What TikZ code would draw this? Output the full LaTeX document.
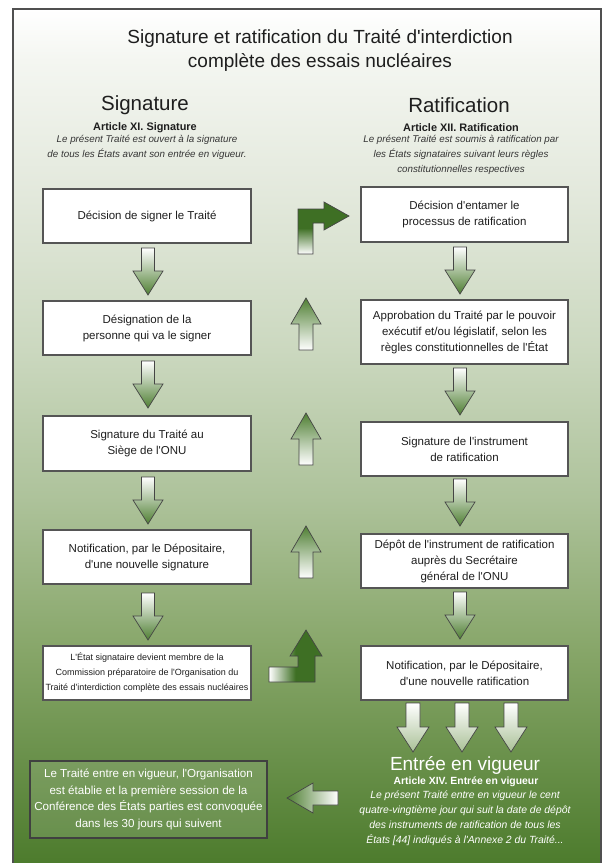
\documentclass[tikz,border=0pt]{standalone}
\usepackage{fontspec}
\newfontfamily\lsans{Liberation Sans}[Ligatures=TeXOff]
\definecolor{bgA}{HTML}{F4F6F1}
\definecolor{bgB}{HTML}{E2E8DB}
\definecolor{bgC}{HTML}{CBD8BF}
\definecolor{bgD}{HTML}{ADC29A}
\definecolor{bgE}{HTML}{87A669}
\definecolor{bgF}{HTML}{4B7A2B}
\definecolor{ag}{HTML}{4F7F33}
\definecolor{dg}{HTML}{3E6F24}
\definecolor{lg}{HTML}{A9C096}
\definecolor{boxline}{HTML}{555555}
\definecolor{arrgray}{HTML}{454545}
\definecolor{framec}{HTML}{505050}
\definecolor{txt}{HTML}{1E1E1E}
\begin{document}
\begin{tikzpicture}[x=1pt,y=-1pt,
  boxst/.style={draw=boxline, line width=1.2pt, fill=white, inner sep=0pt, align=center, text=txt, font=\lsans\fontsize{11.5}{16}\selectfont},
  arrline/.style={draw=arrgray, line width=0.7pt},
  darr/.pic={\path[arrline, top color=white, bottom color=ag] (-6.5,0) -- (6.5,0) -- (6.5,23) -- (15,23) -- (0,47) -- (-15,23) -- (-6.5,23) -- cycle;},
  uarr/.pic={\path[arrline, top color=ag, bottom color=white] (-7,0) -- (7,0) -- (7,-26) -- (15,-26) -- (0,-52) -- (-15,-26) -- (-7,-26) -- cycle;},
  barr/.pic={\path[arrline, top color=white, bottom color=lg] (-7,0) -- (7,0) -- (7,24) -- (16,24) -- (0,49) -- (-16,24) -- (-7,24) -- cycle;},
  hd/.style={font=\lsans\fontsize{20.5}{24}\selectfont, text=txt},
  art/.style={font=\lsans\bfseries\fontsize{10.9}{13}\selectfont, text=txt},
  itx/.style={font=\lsans\itshape\fontsize{9.8}{15}\selectfont, align=center, text=txt!90},
]
\useasboundingbox (0,0) rectangle (606,863);
% background
\fill[white] (0,0) rectangle (606,863);
\shade[top color=white, bottom color=bgA] (13,9) rectangle (601,60.5);
\shade[top color=bgA, bottom color=bgB] (13,60) rectangle (601,200.5);
\shade[top color=bgB, bottom color=bgC] (13,200) rectangle (601,350.5);
\shade[top color=bgC, bottom color=bgD] (13,350) rectangle (601,500.5);
\shade[top color=bgD, bottom color=bgE] (13,500) rectangle (601,650.5);
\shade[top color=bgE, bottom color=bgF] (13,650) rectangle (601,870);
\draw[framec, line width=1.5pt] (13,870) -- (13,9) -- (601,9) -- (601,870);

% title and headers
\node[font=\lsans\fontsize{19}{24}\selectfont, align=center, text=txt] (title) at (320,50) {Signature et ratification du Traité d'interdiction\\complète des essais nucléaires};
\node[hd] (sighd) at (145,105) {Signature};
\node[art] (art11) at (145,128) {Article XI. Signature};
\node[itx] (sigtxt) at (147,147.5) {Le présent Traité est ouvert à la signature\\de tous les États avant son entrée en vigueur.};
\node[hd] (rathd) at (459,105) {Ratification};
\node[art] (art12) at (461,128) {Article XII. Ratification};
\node[itx] (rattxt) at (461,155) {Le présent Traité est soumis à ratification par\\les États signataires suivant leurs règles\\constitutionnelles respectives};

% left boxes
\node[boxst, minimum width=208pt, minimum height=54pt] (L1) at (147,216) {Décision de signer le Traité};
\node[boxst, minimum width=208pt, minimum height=54pt] (L2) at (147,328) {Désignation de la\\personne qui va le signer};
\node[boxst, minimum width=208pt, minimum height=55pt] (L3) at (147,443.5) {Signature du Traité au\\Siège de l'ONU};
\node[boxst, minimum width=208pt, minimum height=54pt] (L4) at (147,557) {Notification, par le Dépositaire,\\d'une nouvelle signature};
\node[boxst, minimum width=208pt, minimum height=54pt, font=\lsans\fontsize{9}{15}\selectfont] (L5) at (147,673) {L'État signataire devient membre de la\\Commission préparatoire de l'Organisation du\\Traité d'interdiction complète des essais nucléaires};

% right boxes
\node[boxst, minimum width=207pt, minimum height=55pt] (R1) at (464.5,214.5) {Décision d'entamer le\\processus de ratification};
\node[boxst, minimum width=207pt, minimum height=64pt] (R2) at (464.5,332) {Approbation du Traité par le pouvoir\\exécutif et/ou législatif, selon les\\règles constitutionnelles de l'État};
\node[boxst, minimum width=207pt, minimum height=54pt] (R3) at (464.5,449) {Signature de l'instrument\\de ratification};
\node[boxst, minimum width=207pt, minimum height=54pt] (R4) at (464.5,561) {Dépôt de l'instrument de ratification\\auprès du Secrétaire\\général de l'ONU};
\node[boxst, minimum width=207pt, minimum height=54pt] (R5) at (464.5,673) {Notification, par le Dépositaire,\\d'une nouvelle ratification};

% down arrows left
\pic at (148,248) {darr};
\pic at (148,361) {darr};
\pic at (148,477) {darr};
\pic at (148,593) {darr};
% down arrows right
\pic at (460,247) {darr};
\pic at (460,368) {darr};
\pic at (460,479) {darr};
\pic at (460,592) {darr};
% up arrows middle
\pic at (306,350) {uarr};
\pic at (306,465) {uarr};
\pic at (306,578) {uarr};

% bent arrow top (signature -> ratification)
\path[arrline, top color=dg, bottom color=white, middle color=dg]
  (298,254) -- (298,209) -- (324,209) -- (324,202) -- (349,216) -- (324,230) -- (324,223) -- (313,223) -- (313,254) -- cycle;
% bent arrow bottom
\path[arrline, left color=white, right color=dg, middle color=dg]
  (269,667) -- (298,667) -- (298,656) -- (290,656) -- (306,630) -- (322,656) -- (315,656) -- (315,682) -- (269,682) -- cycle;

% three arrows to entry into force
\pic at (413,703) {barr};
\pic at (462,703) {barr};
\pic at (511,703) {barr};

% entry into force text
\node[font=\lsans\fontsize{19}{22}\selectfont, text=white] (eev) at (465,765) {Entrée en vigueur};
\node[font=\lsans\bfseries\fontsize{10.4}{13}\selectfont, text=white] (art14) at (466,782) {Article XIV. Entrée en vigueur};
\node[font=\lsans\itshape\fontsize{10.4}{15}\selectfont, align=center, text=white] (eevtxt) at (465,818.5) {Le présent Traité entre en vigueur le cent\\quatre-vingtième jour qui suit la date de dépôt\\des instruments de ratification de tous les\\États [44] indiqués à l'Annexe 2 du Traité...};

% left arrow
\path[arrline, left color=ag, right color=white]
  (287,798) -- (313,783) -- (313,791) -- (338,791) -- (338,805) -- (313,805) -- (313,813) -- cycle;

% final box
\node[draw=black!75, line width=1.2pt, fill=white, fill opacity=0.12, text opacity=1, draw opacity=1, text=white, inner sep=0pt, align=center, minimum width=237pt, minimum height=77pt, font=\lsans\fontsize{11.6}{16.7}\selectfont] (fin) at (148.5,799.5) {Le Traité entre en vigueur, l'Organisation\\est établie et la première session de la\\Conférence des États parties est convoquée\\dans les 30 jours qui suivent};
\end{tikzpicture}
\end{document}
